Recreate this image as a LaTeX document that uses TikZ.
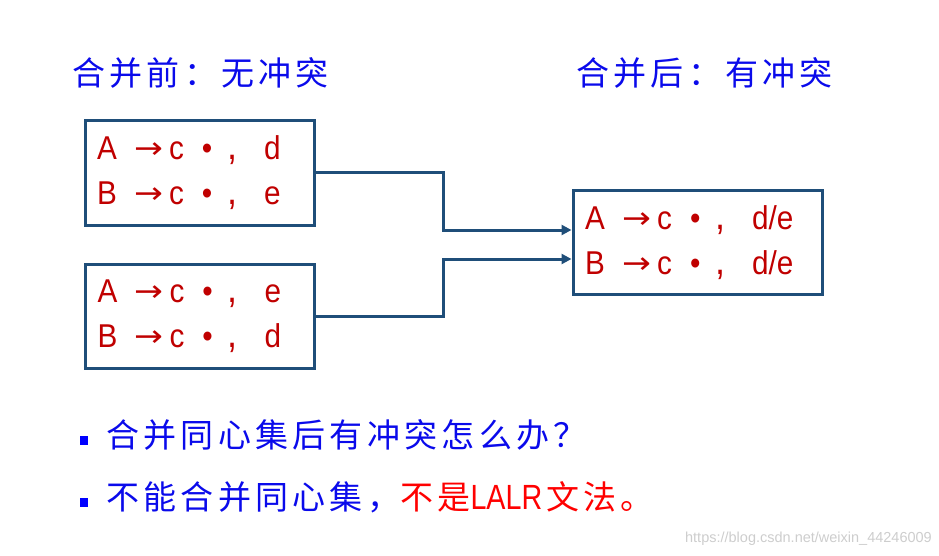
\documentclass[tikz,border=0pt]{standalone}
\usepackage{fontspec}
\setmainfont{Liberation Sans}
\newfontfamily\cjk[LetterSpace=13]{Noto Sans CJK SC}
\newfontfamily\itemfont[FakeStretch=0.9]{Liberation Sans}
\newfontfamily\narrowfont[FakeStretch=0.82]{Liberation Sans}
\newfontfamily\arrowfont[FakeStretch=1.15]{DejaVu Sans}
\usetikzlibrary{arrows.meta}
\definecolor{linkblue}{RGB}{31,78,121}
\definecolor{itemred}{RGB}{192,0,0}
\definecolor{textblue}{RGB}{10,10,235}
\definecolor{brightred}{RGB}{255,0,0}
\definecolor{markgray}{RGB}{205,205,205}
\newcommand\itemrow[6]{\makebox[37pt][l]{#1}\makebox[35pt][l]{\raisebox{1pt}{\arrowfont\fontsize{30pt}{30pt}\selectfont #2}}\makebox[33pt][l]{#3}\makebox[25pt][l]{#4}\makebox[37pt][l]{\fontsize{40pt}{40pt}\selectfont #5}#6}
\tikzset{
  itembox/.style={draw=linkblue, line width=3pt, inner xsep=12pt, inner ysep=0pt,
    minimum height=104pt, align=left, text=itemred,
    font=\itemfont\fontsize{33pt}{45pt}\selectfont},
  link/.style={draw=linkblue, line width=3pt, -{Triangle[length=10pt,width=10pt]}},
  title/.style={anchor=west, inner sep=0pt, text=textblue, font=\cjk\fontsize{33pt}{36pt}\selectfont},
  bulletsq/.style={fill=blue, minimum width=8pt, minimum height=9pt, inner sep=0pt},
}
\begin{document}
\begin{tikzpicture}[x=1pt,y=-1pt]
\useasboundingbox (0,0) rectangle (939,556);
\node[title] (t1) at (72,73) {合并前：无冲突};
\node[title] (t2) at (576,73) {合并后：有冲突};

\node[itembox, text width=205pt] (b1) at (199.5,173) {\itemrow{A}{→}{c}{•}{,}{d}\\\itemrow{B}{→}{c}{•}{,}{e}};
\node[itembox, text width=205pt] (b2) at (200,316) {\itemrow{A}{→}{c}{•}{,}{e}\\\itemrow{B}{→}{c}{•}{,}{d}};
\node[itembox, text width=225pt] (b3) at (697.5,242.5) {\itemrow{A}{→}{c}{•}{,}{d/e}\\\itemrow{B}{→}{c}{•}{,}{d/e}};

\draw[link] (b1.east) -- ++(128,0) |- ([yshift=12.5pt]b3.west);
\draw[link] (b2.east) -- ++(127,0) |- ([yshift=-16.5pt]b3.west);

\node[bulletsq] (q1) at (84,440) {};
\node[bulletsq] (q2) at (84,502) {};
\node[title] (l1) at (106,435) {合并同心集后有冲突怎么办？};
\node[title] (l2) at (106,497) {不能合并同心集，\textcolor{brightred}{不是{\narrowfont\fontsize{35pt}{36pt}\selectfont LALR}\hspace{4pt}文法。}};

\node[anchor=east, inner sep=0pt, text=markgray, font=\fontsize{14.5pt}{16pt}\selectfont] (wm) at (932,539) {https://blog.csdn.net/weixin\_44246009};
\end{tikzpicture}
\end{document}
